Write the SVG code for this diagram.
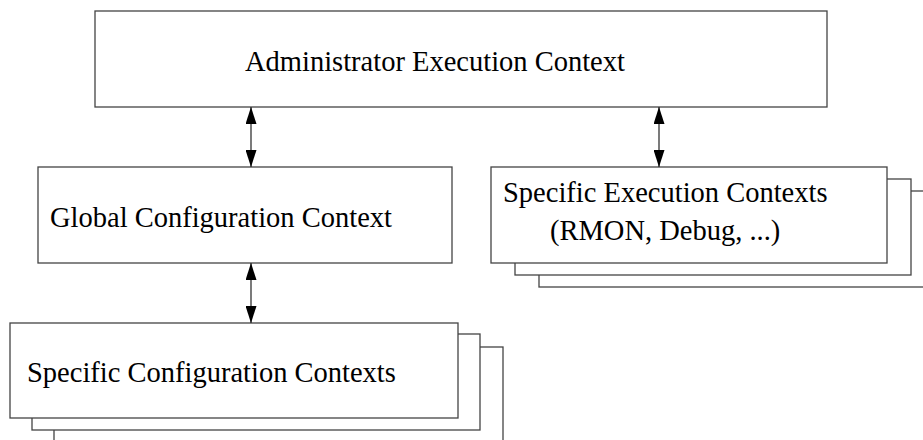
<svg xmlns="http://www.w3.org/2000/svg" width="923" height="440" viewBox="0 0 923 440">
<defs>
<style>
.box{fill:#fff;stroke:#444;stroke-width:1.3}
text{font-family:'Liberation Serif','Times New Roman',serif;font-size:28.5px;fill:#000}
.conn{stroke:#333;stroke-width:1.3;fill:none}
</style>
<marker id="ah" viewBox="0 0 17 11" refX="17" refY="5.5" markerWidth="17" markerHeight="11" markerUnits="userSpaceOnUse" orient="auto-start-reverse">
<path d="M0,0 L17,5.5 L0,11 Z" fill="#000"/>
</marker>
</defs>
<rect width="923" height="440" fill="#fff"/>
<g id="admin">
<rect class="box" x="95" y="11" width="732" height="96"/>
<text x="245" y="71">Administrator Execution Context</text>
</g>
<g id="global">
<rect class="box" x="38" y="167" width="414" height="96"/>
<text x="50" y="227">Global Configuration Context</text>
</g>
<g id="exec">
<rect class="box" x="539" y="191" width="400" height="96"/>
<rect class="box" x="515" y="179" width="396" height="96"/>
<rect class="box" x="491" y="167" width="396" height="96"/>
<text x="503" y="202">Specific Execution Contexts</text>
<text x="550" y="240">(RMON, Debug, ...)</text>
</g>
<g id="config">
<rect class="box" x="54" y="347" width="449" height="110"/>
<rect class="box" x="32" y="334" width="448" height="96"/>
<rect class="box" x="10" y="323" width="448" height="95"/>
<text x="27" y="382">Specific Configuration Contexts</text>
</g>
<g id="connectors">
<line class="conn" x1="251" y1="107" x2="251" y2="167" marker-start="url(#ah)" marker-end="url(#ah)"/>
<line class="conn" x1="659" y1="107" x2="659" y2="167" marker-start="url(#ah)" marker-end="url(#ah)"/>
<line class="conn" x1="251" y1="263" x2="251" y2="323" marker-start="url(#ah)" marker-end="url(#ah)"/>
</g>
</svg>
